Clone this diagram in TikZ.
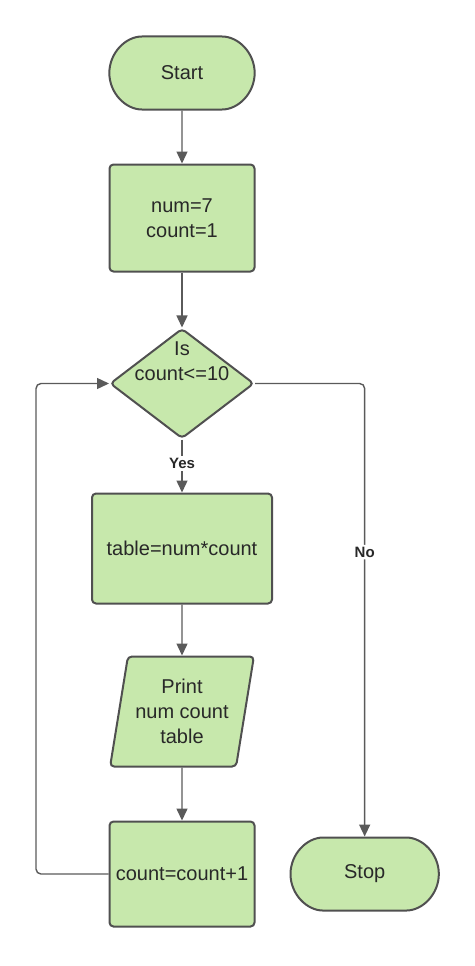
\documentclass[tikz,border=0pt]{standalone}
\usepackage{fontspec}
\setmainfont{Liberation Sans}
\usetikzlibrary{positioning, shapes.geometric, shapes.misc, arrows.meta}

\begin{document}
\begin{tikzpicture}[x=1pt, y=1pt,
		flow/.style={draw=linecolor, line width=1.4pt, -{Triangle[length=12pt, width=11pt]}},
		block/.style={draw=edgecolor, line width=2pt, fill=boxcolor, rounded corners=4pt, text=textcolor, font=\fontsize{20}{25}\selectfont, align=center},
		terminal/.style={block, rounded rectangle, minimum width=152pt, minimum height=73pt},
		tag/.style={fill=white, text=textcolor, font=\bfseries\fontsize{15}{18}\selectfont, inner sep=2pt}]
		
		% Colors
		\definecolor{boxcolor}{RGB}{199,232,172} % LightGreen
		\definecolor{edgecolor}{RGB}{80,80,80}
		\definecolor{linecolor}{RGB}{90,90,90}
		\definecolor{textcolor}{RGB}{40,40,40}
		
		\useasboundingbox (0,0) rectangle (474,-966);
		
		% Main column
		\node (start) [terminal] at (182,-73) {Start};
		\node (init) [block, minimum width=145pt, minimum height=107pt, below=53pt of start] {num=7\\count=1};
		\node (decide) [block, diamond, minimum width=144pt, minimum height=110pt, inner sep=0pt, below=55pt of init] {};
		\node (cond) [block, draw=none, fill=none, above=-2pt of decide.center] {Is\\count<=10};
		\node (calc) [block, minimum width=180pt, minimum height=110pt, below=53pt of decide] {table=num*count};
		\node (show) [block, trapezium, trapezium left angle=77, trapezium right angle=103, trapezium stretches=true, minimum width=144pt, minimum height=110pt, below=51pt of calc] {Print\\num count\\table};
		\node (incr) [block, minimum width=145pt, minimum height=105pt, below=53pt of show] {count=count+1};
		
		% End
		\node (stop) [terminal, minimum width=155pt, right=34pt of incr] {Stop};
		
		% Connections
		\draw[flow] (start) -- (init);
		\draw[flow] (init) -- (decide);
		\draw[flow] (decide) -- node[tag, pos=0.45] {Yes} (calc);
		\draw[flow] (calc) -- (show);
		\draw[flow] (show) -- (incr);
		\draw[flow, rounded corners=5pt] (decide.east) -| node[tag, pos=0.686] {No} (stop.north);
		\draw[flow, rounded corners=5pt] (incr.west) -| ([xshift=-73pt]decide.west) -- (decide.west);
		
	\end{tikzpicture}
\end{document}
